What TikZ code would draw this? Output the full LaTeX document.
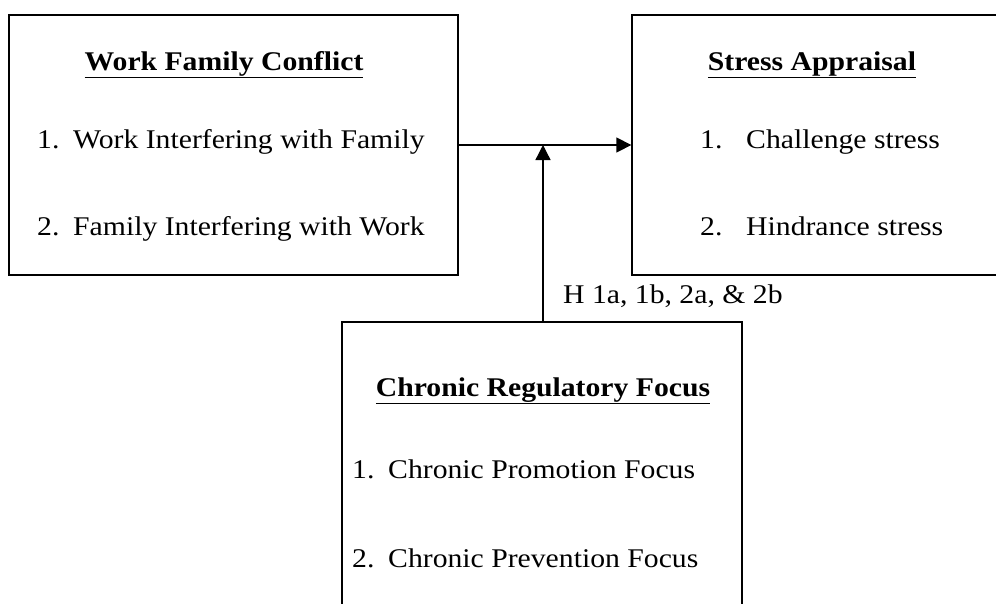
\documentclass[tikz,border=0pt]{standalone}
\usepackage{fontspec}
\setmainfont{Liberation Serif}[FakeStretch=1.1]
\usetikzlibrary{arrows.meta}
\begin{document}
\begin{tikzpicture}[x=1pt,y=-1pt,
  box/.style={draw,line width=1.3pt,inner sep=0pt},
  txt/.style={anchor=base west,inner sep=0pt,font=\fontsize{27}{31}\selectfont},
  ttl/.style={anchor=base,inner sep=0pt,font=\fontsize{27}{31}\selectfont\bfseries},
  arr/.style={line width=1.3pt,-{Triangle[length=15pt,width=15pt]}}]
\useasboundingbox (0,0) rectangle (996,603);
\clip (0,0) rectangle (996,603);
% boxes
\node[box,minimum width=449pt,minimum height=260pt] (wfc) at (233.5,145) {};
\node[box,minimum width=380pt,minimum height=260pt] (sa) at (822,145) {};
\node[box,minimum width=400pt,minimum height=300pt] (crf) at (542,472) {};
% texts
\node[ttl] (t1) at (224,70) {\underline{Work Family Conflict}};
\node[txt] (a1) at (37,148) {1.};
\node[txt] (a1t) at (73,148) {Work Interfering with Family};
\node[txt] (a2) at (37,235) {2.};
\node[txt] (a2t) at (73,235) {Family Interfering with Work};
\node[ttl] (t2) at (812,70) {\underline{Stress Appraisal}};
\node[txt] (b1) at (700,148) {1.};
\node[txt] (b1t) at (746,148) {Challenge stress};
\node[txt] (b2) at (700,235) {2.};
\node[txt] (b2t) at (746,235) {Hindrance stress};
\node[ttl] (t3) at (543,396) {\underline{Chronic Regulatory Focus}};
\node[txt] (c1) at (352,478) {1.};
\node[txt] (c1t) at (388,478) {Chronic Promotion Focus};
\node[txt] (c2) at (352,567) {2.};
\node[txt] (c2t) at (388,567) {Chronic Prevention Focus};
\node[txt] (h) at (563,303) {H 1a, 1b, 2a, \& 2b};
% connectors
\coordinate (mid) at (543,145);
\draw[arr] (wfc.east) -- (sa.west);
\draw[arr] (crf.north -| mid) -- (mid);
\end{tikzpicture}
\end{document}
